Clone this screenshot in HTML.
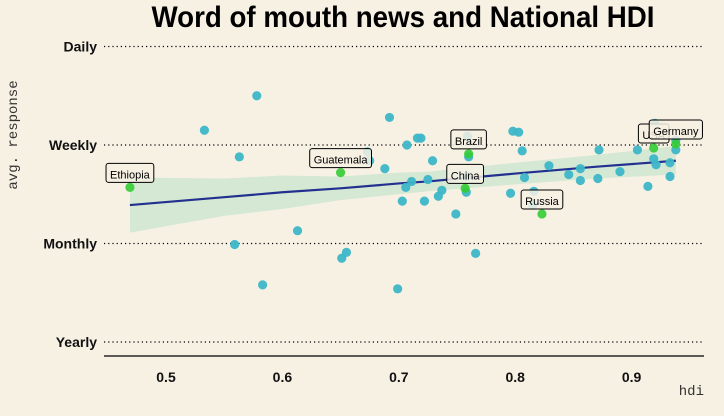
<!DOCTYPE html>
<html><head><meta charset="utf-8"><style>
html,body{margin:0;padding:0;background:#f7f1e4;}
svg{display:block;}
</style></head><body>
<svg id="chart" width="724" height="416" viewBox="0 0 724 416" xmlns="http://www.w3.org/2000/svg">
<rect x="0" y="0" width="724" height="416" fill="#f7f1e4"/>
<text x="403" y="27" text-anchor="middle" font-family="Liberation Sans, sans-serif" font-weight="bold" font-size="30" textLength="503" lengthAdjust="spacingAndGlyphs" fill="#000">Word of mouth news and National HDI</text>
<text transform="translate(17,135) rotate(-90)" text-anchor="middle" font-family="Liberation Mono, monospace" font-size="14" fill="#333">avg. response</text>
<text x="704" y="395" text-anchor="end" font-family="Liberation Mono, monospace" font-size="14" fill="#333">hdi</text>
<g id="grid"></g><g id="band"></g><g id="pts"></g><g id="labels"></g><g id="axes"></g>
</svg>
<script>
const yTickValues=[1,2,3,4];
const yTickLabels=["Yearly","Monthly","Weekly","Daily"];
const xTickValues=[0.5,0.6,0.7,0.8,0.9];
const xTickLabels=["0.5","0.6","0.7","0.8","0.9"];
const hdi=[0.578,0.533,0.692,0.563,0.707,0.716,0.673,0.675,0.688,0.711,0.706,0.703,0.613,0.559,0.655,0.651,0.583,0.699,0.719,0.759,0.798,0.803,0.729,0.806,0.760,0.872,0.905,0.920,0.938,0.919,0.921,0.933,0.829,0.856,0.846,0.890,0.808,0.725,0.758,0.856,0.871,0.933,0.737,0.734,0.758,0.722,0.796,0.816,0.815,0.914,0.749,0.766,0.938];
const response=[3.50,3.15,3.28,2.88,3.00,3.07,2.93,2.84,2.76,2.63,2.57,2.43,2.13,1.99,1.91,1.85,1.58,1.54,3.07,3.09,3.14,3.13,2.84,2.94,2.88,2.95,2.95,3.22,3.05,2.86,2.80,2.82,2.79,2.76,2.70,2.73,2.67,2.65,2.68,2.64,2.66,2.68,2.54,2.48,2.52,2.43,2.51,2.53,2.39,2.58,2.30,1.90,2.95];
const labelNames=["Ethiopia","Guatemala","Brazil","China","Russia","USA","Germany"];
const labelHdi=[0.469,0.650,0.760,0.757,0.823,0.919,0.938];
const labelResponse=[2.57,2.72,2.91,2.56,2.30,2.97,3.01];
const fitHdi=[0.469,0.55,0.6,0.65,0.7,0.725,0.8,0.87,0.938];
const fitMean=[2.39,2.47,2.52,2.56,2.61,2.63,2.71,2.78,2.84];
const fitLower=[2.11,2.28,2.35,2.44,2.50,2.53,2.60,2.66,2.70];
const fitUpper=[2.67,2.66,2.69,2.68,2.72,2.73,2.82,2.90,2.99];

const NS="http://www.w3.org/2000/svg";
const X=h=>166+(h-0.5)*1164;
const Y=r=>342-(r-1)*98.5;
function mk(tag,attrs,parent){const e=document.createElementNS(NS,tag);for(const k in attrs)e.setAttribute(k,attrs[k]);parent.appendChild(e);return e;}
const grid=document.getElementById('grid'),band=document.getElementById('band'),pts=document.getElementById('pts'),labels=document.getElementById('labels'),axes=document.getElementById('axes');
yTickValues.forEach((v,i)=>{
  const l=mk('line',{x1:104,x2:704,y1:Y(v),y2:Y(v),stroke:'#000','stroke-width':1.2,'stroke-dasharray':'1.2 3'},grid);
  
  
  const t=mk('text',{x:97,y:Y(v)+5,'text-anchor':'end','font-family':'Liberation Sans, sans-serif','font-weight':'bold','font-size':14,fill:'#111'},axes);
  t.textContent=yTickLabels[i];
  
  
});
const axl=mk('line',{x1:104,x2:704,y1:356,y2:356,stroke:'#000','stroke-width':1.3},axes);


xTickValues.forEach((v,i)=>{
  const t=mk('text',{x:X(v),y:382,'text-anchor':'middle','font-family':'Liberation Sans, sans-serif','font-weight':'bold','font-size':14,fill:'#111'},axes);
  t.textContent=xTickLabels[i];
  
  
});
let bp=fitHdi.map((h,i)=>X(h)+','+Y(fitUpper[i]));
for(let i=fitHdi.length-1;i>=0;i--)bp.push(X(fitHdi[i])+','+Y(fitLower[i]));
const poly=mk('polygon',{points:bp.join(' '),fill:'#d5e8d4'},band);


const line=mk('polyline',{points:fitHdi.map((h,i)=>X(h)+','+Y(fitMean[i])).join(' '),fill:'none',stroke:'#22308f','stroke-width':2.2},band);


hdi.forEach((h,i)=>{
  const c=mk('circle',{cx:X(h),cy:Y(response[i]),r:4.6,fill:'#3db6c8','fill-opacity':0.95},pts);
  
  
});
labelNames.forEach((n,i)=>{
  const cx=X(labelHdi[i]),cy=Y(labelResponse[i]);
  const c=mk('circle',{cx:cx,cy:cy,r:4.6,fill:'#33cc33','fill-opacity':0.9},pts);
  
  
  const g=mk('g',{},labels);
  
  
  const t=mk('text',{x:cx,y:cy-9,'text-anchor':'middle','font-family':'Liberation Sans, sans-serif','font-size':11,fill:'#000'},g);
  t.textContent=n;
  const w=t.getComputedTextLength()+8;
  const r=mk('rect',{x:cx-w/2,y:cy-24,width:w,height:19,rx:2.5,fill:'#f7f1e4','fill-opacity':0.85,stroke:'#000','stroke-width':1},g);
  g.insertBefore(r,t);
});
</script>
</body></html>
